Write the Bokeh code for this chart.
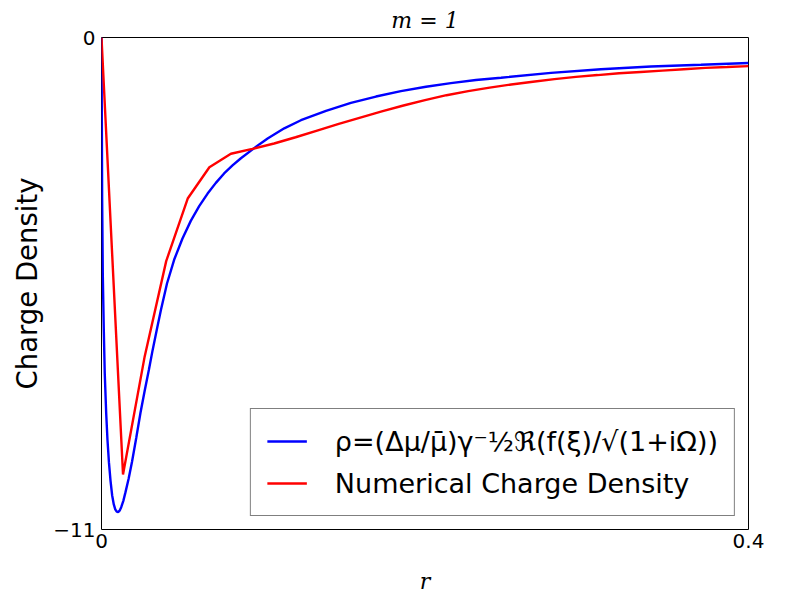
from bokeh.plotting import figure
from bokeh.models import Range1d, FixedTicker, Legend, LegendItem
from bokeh.embed import file_html
from bokeh.resources import INLINE

# ---- data ----
blue_r = [0, 0.0004, 0.0008, 0.0014, 0.002, 0.0029, 0.0037, 0.0046, 0.0056, 0.0066,
          0.0076, 0.0085, 0.0094, 0.0103, 0.0112, 0.0122, 0.0135, 0.0148, 0.0168, 0.0189,
          0.0215, 0.0241, 0.0267, 0.0293, 0.0316, 0.0345, 0.0367, 0.0405, 0.0449, 0.05,
          0.0552, 0.0604, 0.0656, 0.0707, 0.0758, 0.081, 0.0862, 0.0924, 0.0975, 0.1027,
          0.113, 0.1233, 0.1388, 0.1542, 0.1697, 0.1851, 0.2006, 0.216, 0.2315, 0.247,
          0.2779, 0.3088, 0.3397, 0.3706, 0.4]
blue_rho = [0, -3.6, -5.3, -6.5, -7.5, -8.4, -9.0, -9.5, -9.92, -10.24,
            -10.44, -10.55, -10.6, -10.61, -10.58, -10.5, -10.36, -10.17, -9.86, -9.48,
            -8.95, -8.39, -7.9, -7.43, -6.99, -6.48, -6.1, -5.5, -4.97, -4.5,
            -4.1, -3.77, -3.49, -3.25, -3.04, -2.86, -2.70, -2.53, -2.39, -2.26,
            -2.03, -1.85, -1.64, -1.46, -1.32, -1.2, -1.1, -1.02, -0.95, -0.90,
            -0.79, -0.71, -0.65, -0.61, -0.57]

red_r = [0, 0.0133, 0.0267, 0.04, 0.0533, 0.0667, 0.08, 0.0933, 0.1067, 0.12,
         0.1333, 0.1467, 0.16, 0.1733, 0.1867, 0.2, 0.2133, 0.2267, 0.24, 0.2533,
         0.2667, 0.28, 0.2933, 0.3067, 0.32, 0.3333, 0.3467, 0.36, 0.3733, 0.3867, 0.4]
red_rho = [0, -9.77, -7.13, -5.0, -3.60, -2.90, -2.60, -2.49, -2.37, -2.23,
           -2.08, -1.93, -1.79, -1.65, -1.52, -1.40, -1.29, -1.20, -1.12, -1.05,
           -0.99, -0.93, -0.88, -0.84, -0.80, -0.77, -0.74, -0.71, -0.68, -0.66, -0.64]

x_ticks = [0, 0.4]
x_tick_labels = ["0", "0.4"]
y_ticks = [-11, 0]
y_tick_labels = ["\u221211", "0"]

title_text = "m = 1"
x_label = "r"
y_label = "Charge Density"
blue_label = "\u03c1=(\u0394\u03bc/\u03bc\u0304)\u03b3\u207b\u00bd\u211c(f(\u03be)/\u221a(1+i\u03a9))"
red_label = "Numerical Charge Density"

p = figure(width=784, height=584, frame_width=647, frame_height=492,
           x_range=Range1d(0, 0.4), y_range=Range1d(-11, 0),
           output_backend="svg", toolbar_location=None,
           min_border_left=101, min_border_right=36, min_border_top=37, min_border_bottom=55)

p.background_fill_color = "white"
p.border_fill_color = "white"
p.outline_line_color = "black"
p.outline_line_width = 1
p.grid.visible = False

for ax in (p.xaxis[0], p.yaxis[0]):
    ax.axis_line_color = None
    ax.major_tick_out = 0
    ax.major_tick_in = 0
    ax.minor_tick_out = 0
    ax.minor_tick_in = 0
    ax.major_label_text_font = "DejaVu Sans"
    ax.major_label_text_font_size = "20px"
    ax.major_label_text_color = "black"
    ax.axis_label_text_color = "black"

p.xaxis.ticker = FixedTicker(ticks=x_ticks)
p.yaxis.ticker = FixedTicker(ticks=y_ticks)
p.xaxis.major_label_overrides = {t: s for t, s in zip(x_ticks, x_tick_labels)}
p.yaxis.major_label_overrides = {t: s for t, s in zip(y_ticks, y_tick_labels)}
p.xaxis.major_label_standoff = 4
p.yaxis.major_label_standoff = 6

p.xaxis.axis_label = x_label
p.xaxis.axis_label_text_font = "DejaVu Serif"
p.xaxis.axis_label_text_font_style = "italic"
p.xaxis.axis_label_text_font_size = "22px"
p.xaxis.axis_label_standoff = 18

p.yaxis.axis_label = y_label
p.yaxis.axis_label_text_font = "DejaVu Sans"
p.yaxis.axis_label_text_font_style = "normal"
p.yaxis.axis_label_text_font_size = "27.5px"
p.yaxis.axis_label_standoff = 7

p.title.text = title_text
p.title.align = "center"
p.title.text_font = "DejaVu Serif"
p.title.text_font_style = "italic"
p.title.text_font_size = "22px"
p.title.text_color = "black"
p.title.standoff = 10

bl = p.line(blue_r, blue_rho, line_color="blue", line_width=2.4)
rl = p.line(red_r, red_rho, line_color="red", line_width=2.4)

legend = Legend(items=[LegendItem(label=blue_label, renderers=[bl]),
                       LegendItem(label=red_label, renderers=[rl])],
                location="bottom_right")
legend.label_text_font = "DejaVu Sans"
legend.label_text_font_size = "27px"
legend.label_text_color = "black"
legend.border_line_color = "black"
legend.border_line_width = 1
legend.background_fill_alpha = 1
legend.padding = 16
legend.margin = 13
legend.spacing = 10
legend.glyph_width = 40
legend.glyph_height = 32
legend.label_height = 32
legend.label_standoff = 28
p.add_layout(legend)

open("out.html", "w").write(file_html(p, INLINE))
